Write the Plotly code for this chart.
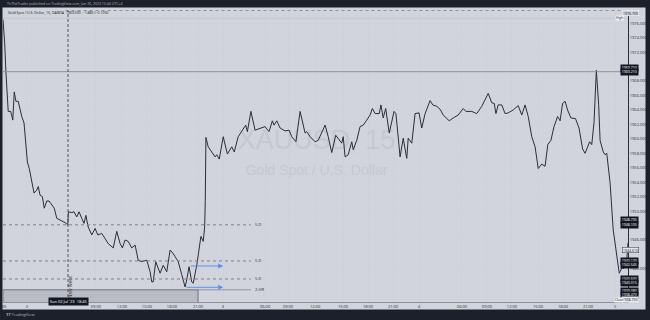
import plotly.graph_objects as go

# ---- data: 15-minute bar index and close price (XAUUSD) ----
bar = [0, 0.8, 1.4, 2.1, 2.5, 3.7, 4.7, 5.4, 6.2, 7.3, 9.0, 10.1, 10.6, 11.7, 12.6, 13.8, 14.9, 16.2, 16.9, 17.8,
       18.9, 19.8, 21.0, 22.1, 23.4, 24.6, 25.8, 28.2, 29.8, 31.1, 31.4, 33.0, 34.1, 35.4, 36.5, 37.8, 38.9, 39.8,
       40.9, 42.6, 44.2, 45.5, 47.4, 49.0, 50.5, 52.9, 54.6, 56.2, 57.3, 58.6, 60.1, 61.8, 63.4, 64.9, 66.6, 69.0,
       70.6, 71.4, 72.1, 73.3, 74.5, 75.4, 76.9, 78.6, 80.2, 81.5, 82.6, 84.1, 85.8, 87.4, 88.2, 89.3, 90.6, 91.3,
       93.0, 94.2, 95.0, 96.1, 96.8, 97.1, 97.4, 98.5, 100.2, 101.8, 102.6, 103.8, 105.7, 107.7, 109.8, 111.0,
       112.9, 115.3, 116.5, 117.3, 119.0, 121.0, 123.4, 125.8, 127.7, 129.3, 130.1, 131.4, 133.0, 135.4, 137.3,
       138.6, 140.6, 142.6, 145.0, 145.8, 147.4, 149.8, 151.3, 153.0, 154.6, 156.1, 157.8, 159.7, 160.9, 162.6,
       163.3, 164.2, 165.7, 167.4, 168.1, 169.8, 171.4, 172.9, 174.6, 176.2, 177.3, 178.6, 180.6, 181.4, 182.5,
       183.7, 185.4, 187.7, 188.6, 190.6, 192.1, 193.8, 194.5, 196.2, 197.8, 199.7, 201.0, 202.6, 205.0, 206.3,
       208.2, 209.8, 211.3, 214.2, 216.1, 218.5, 220.9, 222.2, 225.0, 227.4, 229.8, 231.4, 232.9, 234.6, 235.8,
       236.6, 237.7, 239.4, 241.0, 242.5, 244.9, 247.3, 249.0, 250.6, 252.1, 253.8, 255.4, 256.9, 258.6, 260.2,
       261.5, 263.0, 264.5, 266.2, 267.4, 268.6, 269.8, 271.0, 272.6, 274.8, 276.5, 278.2, 279.4, 281.6, 282.6,
       283.7, 284.8, 285.9, 286.6, 288.1, 289.0, 289.8, 291.4, 292.9, 294.6, 295.8, 297.0, 298.1, 299.4, 300.0]
price = [1976.5, 1973.3, 1969.3, 1966.4, 1963.8, 1963.8, 1962.6, 1966.5, 1965.2, 1965.2, 1963.1, 1962.2, 1960.8,
         1956.8, 1955.9, 1953.9, 1952.5, 1952.9, 1953.4, 1952.2, 1952.0, 1950.4, 1951.4, 1951.4, 1950.9, 1950.4,
         1949.0, 1948.7, 1948.4, 1948.1, 1949.9, 1949.8, 1949.9, 1949.2, 1949.9, 1949.0, 1948.3, 1949.4, 1947.8,
         1946.7, 1947.6, 1946.7, 1946.9, 1946.2, 1945.5, 1944.9, 1947.2, 1945.5, 1944.9, 1946.0, 1945.8, 1944.9,
         1945.3, 1943.2, 1943.0, 1943.2, 1941.6, 1940.2, 1940.2, 1943.0, 1941.9, 1941.4, 1942.5, 1941.6, 1944.6,
         1944.2, 1943.7, 1943.0, 1941.2, 1939.5, 1940.5, 1942.3, 1940.2, 1940.0, 1942.5, 1945.1, 1946.5, 1945.8,
         1947.8, 1951.5, 1960.2, 1958.9, 1958.2, 1957.5, 1957.8, 1957.2, 1960.3, 1957.9, 1958.9, 1958.2, 1960.3,
         1961.3, 1961.9, 1961.0, 1963.8, 1961.2, 1961.5, 1961.7, 1961.0, 1962.5, 1961.9, 1962.5, 1961.5, 1961.1,
         1961.2, 1960.3, 1959.6, 1963.8, 1960.8, 1961.0, 1960.3, 1959.6, 1959.8, 1961.0, 1961.9, 1960.3, 1958.1,
         1960.5, 1960.1, 1959.4, 1960.3, 1957.5, 1957.8, 1959.6, 1958.5, 1959.8, 1961.7, 1961.9, 1962.6, 1963.3,
         1964.2, 1963.5, 1963.5, 1964.7, 1962.9, 1964.2, 1960.8, 1963.8, 1963.5, 1957.5, 1960.1, 1957.3, 1960.1,
         1959.4, 1963.5, 1963.6, 1961.5, 1963.5, 1965.3, 1964.7, 1964.5, 1964.1, 1963.3, 1962.5, 1962.9, 1963.3,
         1964.2, 1963.8, 1963.8, 1963.5, 1964.5, 1965.4, 1966.3, 1965.0, 1964.9, 1963.5, 1964.7, 1964.7, 1963.5,
         1963.6, 1964.0, 1964.6, 1963.3, 1964.7, 1963.1, 1960.3, 1958.9, 1955.9, 1956.5, 1956.2, 1959.2, 1959.8,
         1961.7, 1963.1, 1962.5, 1964.9, 1965.2, 1964.0, 1962.9, 1962.8, 1961.5, 1958.6, 1958.0, 1959.6, 1959.2,
         1962.3, 1969.5, 1964.8, 1959.8, 1958.2, 1957.8, 1958.0, 1953.9, 1947.4, 1944.2, 1941.4, 1942.1, 1942.1,
         1943.2, 1945.6]

# ---- axes ----
price_ticks = [1976, 1974, 1972, 1968, 1966, 1964, 1962, 1960, 1958, 1956, 1954, 1952, 1950, 1946, 1942]
time_ticks = [0.5, 11.5, 44.6, 57.1, 69.1, 81.1, 93.6, 105.6, 125.8, 136.8, 149.8, 163.2, 175.2, 187.2,
              199.7, 220.3, 232.3, 244.3, 256.8, 268.8, 280.8, 293.8]
time_labels = ["30", "2", "09:00", "12:00", "15:00", "18:00", "21:00", "3", "06:00", "09:00", "12:00", "15:00",
               "18:00", "21:00", "4", "06:00", "09:00", "12:00", "15:00", "18:00", "21:00", "5"]

# ---- drawn levels ----
level_prices = [1948.1, 1943.1, 1940.6]
level_labels = ["5-D", "5-D", "5-D"]
level_end = 119
range_top = 1939.1
range_end = 93.6
new_week_bar = 31.2
arrow_starts = [(89.4, 1942.4), (87.4, 1939.45)]
arrow_end = 105.7
high_line = 1976.7
hline_price = 1969.3

axis_boxes = [(1969.8, "1969.710"), (1969.25, "1969.210"), (1948.7, "1948.735"), (1948.1, "1948.105"),
              (1943.1, "1943.120"), (1942.5, "1942.545"), (1940.6, "1940.600"), (1940.0, "1940.015"),
              (1939.0, "1939.080"), (1938.4, "1938.470")]
last_price_box = (1944.6, "1944.610")

BG = "#d1d4dc"
DARK = "#1c202b"
W, H = 650, 320

fig = go.Figure()

# watermark (drawn below the price line)
fig.add_trace(go.Scatter(x=[150.5, 150.5], y=[1959.6, 1955.5], mode="text",
                         text=["XAUUSD, 15", "Gold Spot / U.S. Dollar"],
                         textfont=dict(size=[27, 14], color="#c5c8d0", family="Liberation Sans"),
                         hoverinfo="skip", showlegend=False))

fig.add_trace(go.Scatter(x=bar, y=price, mode="lines",
                         line=dict(color="#2a2e39", width=1), showlegend=False))

shapes = []
# full-width lines
shapes.append(dict(type="line", xref="x domain", yref="y", x0=0, x1=1, y0=hline_price, y1=hline_price,
                   line=dict(color="#8f929b", width=1)))
shapes.append(dict(type="line", xref="x domain", yref="y", x0=0, x1=1, y0=high_line, y1=high_line,
                   line=dict(color="#c2c5cc", width=1)))
shapes.append(dict(type="line", xref="x domain", yref="y domain", x0=0.1, x1=1, y0=1, y1=1,
                   line=dict(color="#8f929b", width=1, dash="dot")))
# levels
for lp in level_prices:
    shapes.append(dict(type="line", xref="x", yref="y", x0=0, x1=level_end, y0=lp, y1=lp,
                       line=dict(color="#7c7f88", width=1, dash="dot")))
shapes.append(dict(type="line", xref="x", yref="y", x0=range_end, x1=level_end, y0=range_top, y1=range_top,
                   line=dict(color="#8f929b", width=1)))
# gray range box
shapes.append(dict(type="rect", xref="x", yref="y", x0=0, x1=range_end, y0=range_top, y1=1937.0,
                   fillcolor="#b9bcc4", line=dict(color="#6f727b", width=1)))
# new week line
shapes.append(dict(type="line", xref="x", yref="y domain", x0=new_week_bar, x1=new_week_bar, y0=0, y1=1,
                   line=dict(color="#50535e", width=1, dash="3px,2px")))
# frame bars
shapes.append(dict(type="rect", xref="paper", yref="paper", x0=0, x1=1, y0=1 - 7.5 / H, y1=1,
                   fillcolor=DARK, line_width=0))
shapes.append(dict(type="rect", xref="paper", yref="paper", x0=0, x1=1, y0=0, y1=1 - 309.5 / H,
                   fillcolor=DARK, line_width=0))
shapes.append(dict(type="rect", xref="paper", yref="paper", x0=0, x1=2.5 / W, y0=0, y1=1,
                   fillcolor=DARK, line_width=0))
shapes.append(dict(type="rect", xref="paper", yref="paper", x0=645.5 / W, x1=1, y0=0, y1=1,
                   fillcolor=DARK, line_width=0))

ann = []
for lp, lt in zip(level_prices, level_labels):
    ann.append(dict(x=level_end + 1, y=lp, xref="x", yref="y", text=lt, showarrow=False, xanchor="left",
                    font=dict(size=4, color="#2a2e39")))
ann.append(dict(x=level_end + 1, y=range_top, xref="x", yref="y", text="2-HR", showarrow=False,
                xanchor="left", font=dict(size=4, color="#2a2e39")))
for (sx, sy) in arrow_starts:
    ann.append(dict(x=arrow_end, y=sy, ax=sx, ay=sy, xref="x", yref="y", axref="x", ayref="y", text="",
                    showarrow=True, arrowhead=2, arrowsize=1, arrowwidth=1, arrowcolor="#5b8ff0"))
ann.append(dict(x=new_week_bar + 1.3, y=1939.6, xref="x", yref="y", text="New Week", textangle=-90,
                showarrow=False, font=dict(size=4.5, color="#2a2e39")))
# axis value boxes
for yp, txt in axis_boxes:
    ann.append(dict(x=638.5 / W, y=yp, xref="paper", yref="y", text=txt, showarrow=False,
                    bgcolor="#131722", font=dict(size=3.5, color="#ffffff"), width=16, borderpad=0.3))
ann.append(dict(x=638.5 / W, y=last_price_box[0], xref="paper", yref="y", text=last_price_box[1],
                showarrow=False, bgcolor="#e6e8ee", bordercolor="#2a2e39", borderwidth=0.5,
                font=dict(size=3.5, color="#131722"), width=16, borderpad=0))
ann.append(dict(x=638.5 / W, y=1937.7, xref="paper", yref="y", text="1938.750", showarrow=False,
                bgcolor="#e6e8ee", font=dict(size=3.5, color="#131722"), width=16, borderpad=0))
ann.append(dict(x=623.5 / W, y=1937.7, xref="paper", yref="y", text="Close", showarrow=False,
                bgcolor="#f0f2f6", font=dict(size=3.2, color="#131722"), borderpad=0))
ann.append(dict(x=623.5 / W, y=1976.7, xref="paper", yref="y", text="High", showarrow=False,
                bgcolor="#f0f2f6", font=dict(size=3.2, color="#131722"), borderpad=0))
ann.append(dict(x=638.5 / W, y=1977.4, xref="paper", yref="y", text="1976.700", showarrow=False,
                bgcolor="#d1d4dc", bordercolor="#f0f2f6", borderwidth=0.5,
                font=dict(size=3.5, color="#131722"), width=16, borderpad=0))
# time crosshair box
ann.append(dict(x=new_week_bar, y=1 - 306 / H, xref="x", yref="paper", text="Sun 02 Jul '23  18:45",
                showarrow=False, bgcolor="#131722", font=dict(size=4, color="#ffffff"), borderpad=0.8))
# legend + header + footer
ann.append(dict(x=6 / W, y=1 - 12.5 / H, xref="paper", yref="paper", xanchor="left", yanchor="middle",
                text="Gold Spot / U.S. Dollar, 15, OANDA  1969.590  −1.885 (−0.10%)", showarrow=False,
                font=dict(size=3.5, color="#131722")))
ann.append(dict(x=5 / W, y=1 - 3.8 / H, xref="paper", yref="paper", xanchor="left", yanchor="middle",
                text="TirTheTrader published on TradingView.com, Jun 26, 2023 15:44 UTC+4", showarrow=False,
                font=dict(size=3.5, color="#b2b5be")))
ann.append(dict(x=4 / W, y=1 - 314.5 / H, xref="paper", yref="paper", xanchor="left", yanchor="middle",
                text="<b>17</b> TradingView", showarrow=False, font=dict(size=4, color="#b2b5be")))

fig.update_layout(
    width=W, height=H, margin=dict(l=0, r=0, t=0, b=0),
    paper_bgcolor=BG, plot_bgcolor=BG, showlegend=False,
    shapes=shapes, annotations=ann,
    xaxis=dict(domain=[3 / W, 628 / W], range=[0, 300], tickvals=time_ticks, ticktext=time_labels,
               tickfont=dict(size=4, color="#2a2e39"), showgrid=True, gridcolor="#ced1d9", gridwidth=1,
               zeroline=False, showline=True, linecolor="#8f929b", linewidth=1, ticks="", ticklabelstandoff=0),
    yaxis=dict(domain=[1 - 302 / H, 1 - 10.5 / H], range=[1937.415, 1977.772], side="right",
               tickvals=price_ticks, ticktext=[f"{v}.000" for v in price_ticks],
               tickfont=dict(size=4, color="#2a2e39"), showgrid=True, gridcolor="#cfd2da",
               zeroline=False, showline=True, linecolor="#2a2e39", linewidth=1, ticks=""),
)

fig.write_html("out.html")
